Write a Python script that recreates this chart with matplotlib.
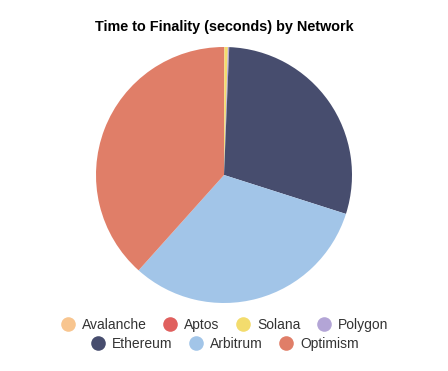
import matplotlib
matplotlib.use("Agg")
from matplotlib import pyplot as plt
from matplotlib.lines import Line2D

plt.rcParams['font.family'] = ['Liberation Sans', 'DejaVu Sans']

networks = ["Avalanche", "Aptos", "Solana", "Polygon", "Ethereum", "Arbitrum", "Optimism"]
finality = [1, 1, 13, 5, 900, 975, 1180]
colors = ["#f8c58f", "#e0605e", "#f3dc6d", "#b3a5d6", "#474d6e", "#a2c5e8", "#e07e68"]

fig = plt.figure(figsize=(4.48, 3.71), dpi=100)
ax = fig.add_axes([(224 - 128) / 448, 1 - (175 + 128) / 371, 256 / 448, 256 / 371])
ax.pie(finality, colors=colors, startangle=90, counterclock=False,
       wedgeprops=dict(linewidth=0))
ax.set_xlim(-1, 1)
ax.set_ylim(-1, 1)
ax.set_aspect('equal')

fig.text(224 / 448, 1 - 27 / 371, "Time to Finality (seconds) by Network",
         ha='center', va='center', fontsize=10.4, fontweight='bold')

def handles(idx):
    return [Line2D([], [], marker='o', linestyle='', markersize=10.5,
                   markerfacecolor=colors[i], markeredgewidth=0) for i in idx]

row1 = [0, 1, 2, 3]
row2 = [4, 5, 6]
leg1 = fig.legend(handles(row1), [networks[i] for i in row1], loc='center',
                  bbox_to_anchor=(224 / 448, 1 - 325 / 371), ncol=4, frameon=False,
                  fontsize=10, handletextpad=0.4, columnspacing=1.1, handlelength=1.2)
leg2 = fig.legend(handles(row2), [networks[i] for i in row2], loc='center',
                  bbox_to_anchor=(224 / 448, 1 - 344 / 371), ncol=3, frameon=False,
                  fontsize=10, handletextpad=0.4, columnspacing=1.1, handlelength=1.2)
for leg in (leg1, leg2):
    for t in leg.get_texts():
        t.set_color('#333333')

fig.savefig("out.png", dpi=100)
